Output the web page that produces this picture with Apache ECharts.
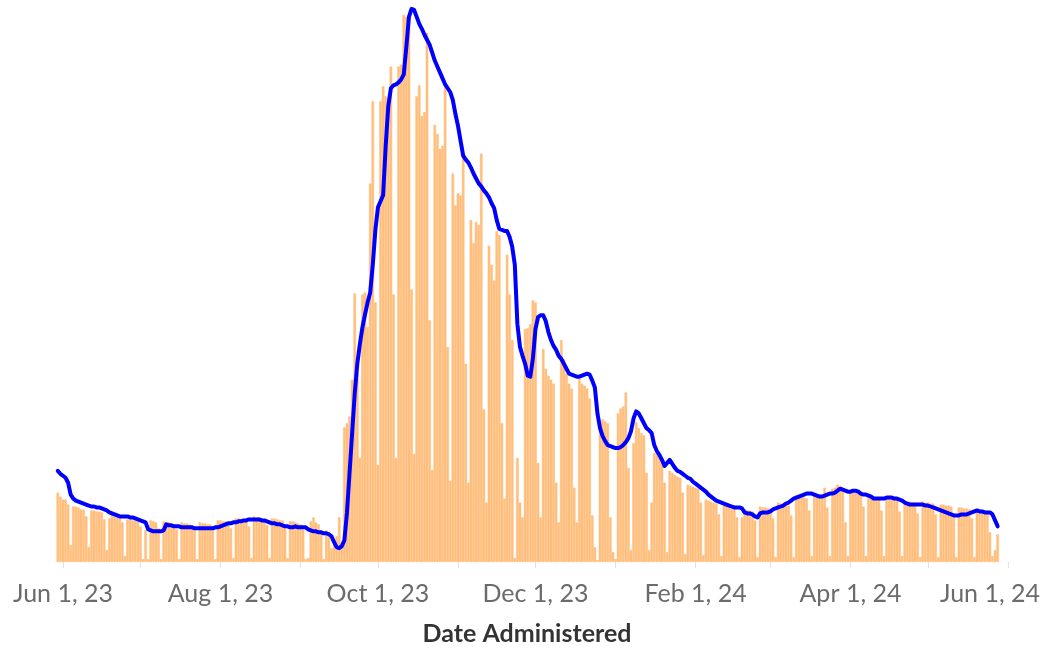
<!DOCTYPE html>
<html>
<head>
<meta charset="utf-8">
<script src="https://cdn.jsdelivr.net/npm/echarts/dist/echarts.min.js"></script>
<style>
  html, body { margin: 0; padding: 0; background: #fff; }
  #chart { width: 1046px; height: 651px; }
</style>
</head>
<body>
<div id="chart"></div>
<script>
// daily doses, one row per week (Mon..Sun); first row starts Tue May 30, 2023
var dailyDoses = [
  70, 66, 63, 63, 58, 17,
  56, 56, 55, 53, 53, 46, 15,
  52, 52, 51, 51, 50, 43, 12,
  44, 49, 48, 47, 47, 40, 6,
  43, 43, 42, 42, 41, 36, 3,
  32, 3, 42, 41, 40, 34, 3,
  41, 40, 40, 39, 38, 33, 3,
  40, 39, 39, 38, 37, 32, 3,
  40, 39, 39, 38, 38, 32, 3,
  42, 42, 41, 41, 40, 34, 4,
  44, 44, 43, 43, 42, 36, 4,
  46, 45, 45, 44, 43, 37, 4,
  44, 44, 43, 42, 42, 36, 4,
  41, 41, 40, 39, 38, 33, 3,
  4, 41, 45, 40, 38, 32, 3,
  32, 30, 14, 22, 26, 45, 18,
  136, 140, 147, 184, 271, 190, 105,
  270, 272, 237, 382, 465, 262, 98,
  465, 480, 470, 455, 500, 270, 105,
  500, 502, 552, 550, 545, 275, 109,
  470, 481, 450, 454, 534, 244, 93,
  441, 432, 417, 420, 479, 217, 82,
  392, 360, 372, 370, 410, 200, 80,
  345, 322, 343, 340, 412, 154, 60,
  319, 300, 284, 334, 330, 140, 64,
  310, 270, 224, 4, 105, 60, 45,
  235, 236, 240, 264, 262, 100, 45,
  215, 195, 188, 184, 180, 80, 40,
  224, 205, 190, 180, 175, 75, 40,
  185, 180, 178, 175, 165, 47, 15,
  2, 139, 144, 142, 140, 45, 10,
  3, 150, 155, 157, 171, 95, 12,
  120, 141, 135, 130, 128, 90, 12,
  60, 110, 112, 108, 104, 80, 10,
  92, 90, 88, 86, 85, 70, 8,
  78, 77, 76, 75, 74, 60, 7,
  63, 62, 61, 60, 59, 48, 6,
  58, 57, 57, 56, 55, 45, 5,
  45, 53, 52, 52, 51, 42, 5,
  56, 55, 55, 54, 54, 44, 5,
  60, 59, 59, 58, 57, 47, 5,
  67, 66, 66, 65, 64, 52, 6,
  69, 68, 68, 67, 75, 55, 6,
  74, 75, 78, 76, 72, 40, 6,
  72, 71, 70, 69, 68, 56, 6,
  67, 67, 66, 65, 64, 52, 6,
  66, 65, 65, 64, 63, 51, 6,
  62, 61, 61, 60, 60, 49, 5,
  61, 60, 60, 59, 59, 48, 5,
  58, 58, 57, 57, 56, 46, 5,
  55, 55, 54, 54, 53, 44, 5,
  53, 53, 52, 52, 52, 30, 6,
  12, 28
];

// 7-day average (own axis), ten days per row
var sevenDayAvg = [
  92, 89, 87, 85, 80, 68, 64, 62, 61, 60,
  59, 58, 57, 56, 56, 55, 55, 54, 53, 52,
  50, 49, 48, 47, 46, 46, 46, 46, 45, 45,
  44, 43, 42, 41, 40, 33, 32, 31, 31, 31,
  31, 32, 38, 37, 37, 36, 36, 36, 35, 35,
  35, 35, 35, 34, 34, 34, 34, 34, 34, 34,
  34, 35, 35, 36, 37, 38, 39, 39, 40, 40,
  41, 41, 42, 42, 43, 43, 43, 43, 43, 42,
  42, 41, 40, 39, 39, 38, 38, 37, 36, 36,
  35, 35, 36, 35, 35, 35, 35, 33, 32, 31,
  31, 30, 30, 29, 29, 28, 26, 20, 15, 14,
  16, 22, 50, 90, 130, 170, 200, 220, 237, 250,
  262, 272, 300, 335, 358, 364, 370, 420, 460, 478,
  481, 482, 484, 487, 492, 520, 550, 558, 557, 550,
  543, 538, 532, 527, 522, 514, 506, 500, 494, 488,
  482, 478, 474, 466, 452, 440, 425, 410, 406, 403,
  398, 392, 387, 382, 379, 375, 372, 368, 362, 357,
  345, 336, 335, 334, 334, 328, 318, 300, 240, 217,
  208, 200, 188, 187, 205, 235, 247, 249, 249, 243,
  232, 224, 218, 214, 208, 205, 200, 195, 190, 189,
  188, 187, 187, 188, 189, 190, 189, 183, 176, 150,
  135, 127, 122, 118, 117, 116, 115, 115, 116, 118,
  121, 125, 132, 145, 152, 150, 145, 140, 135, 133,
  130, 118, 112, 108, 103, 97, 100, 103, 99, 95,
  92, 91, 89, 87, 85, 84, 81, 79, 77, 75,
  73, 71, 68, 66, 64, 62, 61, 60, 59, 58,
  57, 56, 55, 55, 55, 54, 50, 49, 49, 48,
  46, 45, 49, 50, 50, 50, 51, 53, 54, 55,
  56, 57, 59, 60, 62, 64, 65, 66, 67, 68,
  69, 69, 69, 68, 67, 66, 66, 67, 68, 69,
  69, 70, 72, 74, 73, 72, 71, 71, 72, 72,
  71, 69, 68, 68, 67, 66, 64, 64, 64, 64,
  64, 65, 65, 65, 64, 64, 63, 62, 60, 59,
  58, 58, 58, 58, 58, 58, 57, 57, 56, 55,
  54, 53, 52, 51, 50, 49, 48, 47, 47, 47,
  48, 48, 48, 49, 50, 51, 52, 51, 51, 50,
  50, 50, 48, 42, 36
];

var tickLabels = ['Jun 1, 23', 'Aug 1, 23', 'Oct 1, 23', 'Dec 1, 23', 'Feb 1, 24', 'Apr 1, 24', 'Jun 1, 24'];
var axisTitle = 'Date Administered';

// one category per day, axis runs a few days past the data
var monthNames = ['Jan', 'Feb', 'Mar', 'Apr', 'May', 'Jun', 'Jul', 'Aug', 'Sep', 'Oct', 'Nov', 'Dec'];
var days = [];
var cur = new Date(2023, 4, 30);
for (var i = 0; i < 373; i++) {
  days.push(monthNames[cur.getMonth()] + ' ' + cur.getDate() + ', ' + String(cur.getFullYear()).slice(2));
  cur.setDate(cur.getDate() + 1);
}

var barColor = '#ffbe7d';
var chart = echarts.init(document.getElementById('chart'), null, { renderer: 'canvas' });

chart.setOption({
  animation: false,
  grid: { left: 56.5, right: 26.4, top: 7, bottom: 84 },
  xAxis: {
    type: 'category',
    data: days,
    boundaryGap: true,
    axisLine: { show: false },
    axisTick: {
      show: true,
      alignWithLabel: true,
      length: 6,
      interval: function (idx, val) { return / 1, /.test(val); },
      lineStyle: { color: '#e2e2e2', width: 1 }
    },
    axisLabel: {
      interval: function (idx, val) { return tickLabels.indexOf(val) >= 0; },
      margin: 19,
      color: '#6b6b6b',
      fontFamily: 'Lato',
      fontSize: 25,
      formatter: function (val) {
        return val === 'Jun 1, 24' ? '{last|' + val + '}' : val;
      },
      rich: {
        last: { padding: [0, 36, 0, 0], color: '#6b6b6b', fontFamily: 'Lato', fontSize: 25 }
      }
    },
    name: axisTitle,
    nameLocation: 'middle',
    nameGap: 59,
    nameTextStyle: {
      color: '#333333',
      fontFamily: 'Lato',
      fontWeight: 'bold',
      fontSize: 25,
      padding: [0, 22, 0, 0]
    }
  },
  yAxis: [
    { type: 'value', min: 0, max: 560, show: false },
    { type: 'value', min: 0, max: 560, show: false }
  ],
  series: [
    {
      name: 'Doses',
      type: 'bar',
      data: dailyDoses,
      yAxisIndex: 0,
      barCategoryGap: '0%',
      itemStyle: { color: barColor, borderColor: barColor, borderWidth: 0.5 }
    },
    {
      name: '7-day average',
      type: 'line',
      data: sevenDayAvg,
      yAxisIndex: 1,
      showSymbol: false,
      z: 5,
      lineStyle: { color: '#0000ff', width: 4, join: 'round', cap: 'round' }
    }
  ]
});
</script>
</body>
</html>
